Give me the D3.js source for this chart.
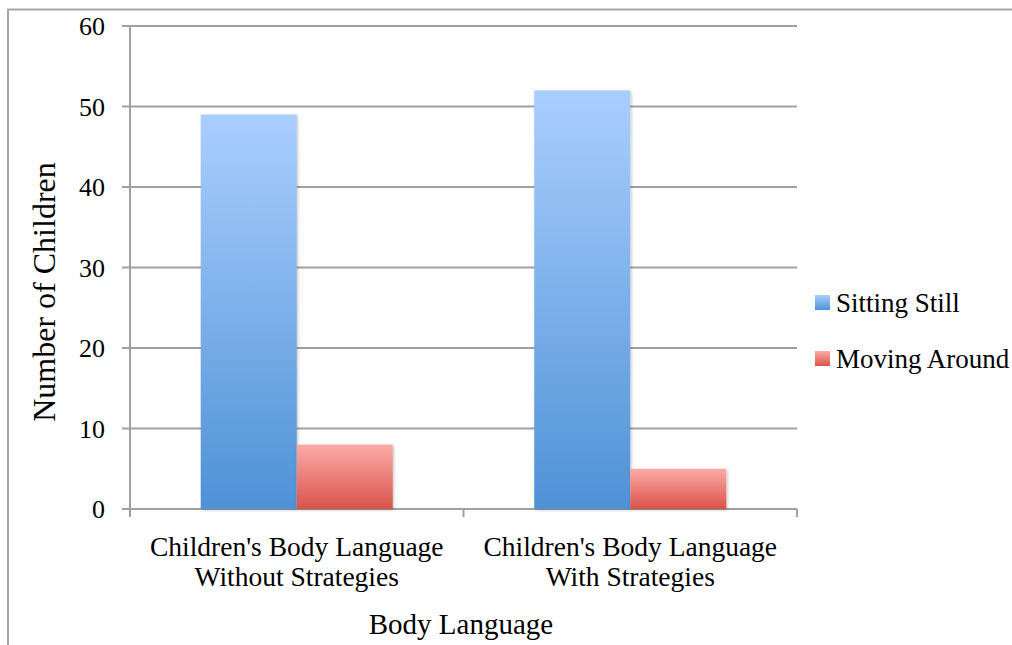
<!DOCTYPE html>
<html>
<head>
<meta charset="utf-8">
<script src="https://cdn.jsdelivr.net/npm/d3@7"></script>
<style>
  body { margin: 0; background: #fff; }
  svg { display: block; font-family: "Liberation Serif", "DejaVu Serif", serif; }
</style>
</head>
<body>
<svg id="chart" width="1012" height="645"></svg>
<script>
// chart data
var categories = ["Children's Body Language|Without Strategies", "Children's Body Language|With Strategies"];
var seriesNames = ["Sitting Still", "Moving Around"];
var sittingStill = [49, 52];
var movingAround = [8, 5];
var yTicks = [0, 10, 20, 30, 40, 50, 60];

var svg = d3.select('#chart');
var plotL = 130, plotR = 797, plotT = 26, plotB = 509;

var defs = svg.append('defs');
var grads = [["gBlue", "#aacefe", "#4e92d6"], ["gRed", "#fcaba7", "#d9534a"]];
grads.forEach(function(g){
  var lg = defs.append('linearGradient').attr('id', g[0]).attr('x1', 0).attr('y1', 0).attr('x2', 0).attr('y2', 1);
  lg.append('stop').attr('offset', '0%').attr('stop-color', g[1]);
  lg.append('stop').attr('offset', '100%').attr('stop-color', g[2]);
});
var f = defs.append('filter').attr('id', 'shadow').attr('x', '-10%').attr('y', '-10%').attr('width', '130%').attr('height', '130%');
f.append('feDropShadow').attr('dx', 1).attr('dy', 1).attr('stdDeviation', 1.5).attr('flood-color', '#000').attr('flood-opacity', 0.25);

// outer border
svg.append('rect').attr('x', 8).attr('y', 9.5).attr('width', 1020).attr('height', 650)
  .attr('fill', 'none').attr('stroke', '#a6a6a6').attr('stroke-width', 2);

var y = d3.scaleLinear().domain([0, 60]).range([plotB, plotT]);
var x0 = d3.scaleBand().domain(d3.range(categories.length)).range([plotL, plotR]).padding(0);
var x1 = d3.scaleBand().domain(d3.range(seriesNames.length)).range([0, x0.bandwidth()]).paddingInner(0).paddingOuter(0.737);

// gridlines
svg.append('g').selectAll('line').data(yTicks).enter().append('line')
  .attr('x1', plotL - 8).attr('x2', plotR)
  .attr('y1', function(d){ return y(d); }).attr('y2', function(d){ return y(d); })
  .attr('stroke', '#a0a0a0').attr('stroke-width', 2);

// y tick labels
svg.append('g').selectAll('text').data(yTicks).enter().append('text')
  .attr('x', 105).attr('y', function(d){ return y(d) + 9; })
  .attr('text-anchor', 'end').attr('font-size', 26).attr('fill', '#000')
  .text(function(d){ return d; });

// y axis line
svg.append('line').attr('x1', plotL).attr('x2', plotL).attr('y1', plotT).attr('y2', plotB + 8)
  .attr('stroke', '#a0a0a0').attr('stroke-width', 2);
// x category ticks
svg.append('g').selectAll('line').data(d3.range(categories.length + 1)).enter().append('line')
  .attr('x1', function(d){ return plotL + d * x0.step(); }).attr('x2', function(d){ return plotL + d * x0.step(); })
  .attr('y1', plotB).attr('y2', plotB + 8)
  .attr('stroke', '#a0a0a0').attr('stroke-width', 2);

// bars
var rows = categories.map(function(c, i){ return [sittingStill[i], movingAround[i]]; });
var fills = ['url(#gBlue)', 'url(#gRed)'];
var grp = svg.append('g').selectAll('g').data(rows).enter().append('g')
  .attr('transform', function(d, i){ return 'translate(' + x0(i) + ',0)'; });
grp.selectAll('rect').data(function(d){ return d; }).enter().append('rect')
  .attr('x', function(d, j){ return x1(j); })
  .attr('y', function(d){ return y(d); })
  .attr('width', x1.bandwidth())
  .attr('height', function(d){ return y(0) - y(d); })
  .attr('fill', function(d, j){ return fills[j]; })
  .attr('filter', 'url(#shadow)');

// category labels
svg.append('g').selectAll('text').data(categories).enter().append('text')
  .attr('text-anchor', 'middle').attr('font-size', 27.5).attr('fill', '#000')
  .attr('x', function(d, i){ return x0(i) + x0.bandwidth() / 2; })
  .attr('y', 556)
  .each(function(d){
    var t = d3.select(this);
    d.split('|').forEach(function(s, k){
      t.append('tspan').attr('x', t.attr('x')).attr('dy', k ? 30 : 0).text(s);
    });
  });

// axis titles
svg.append('text').attr('x', 461).attr('y', 634).attr('text-anchor', 'middle')
  .attr('font-size', 29).attr('fill', '#000').text('Body Language');
svg.append('text').attr('transform', 'translate(55,292) rotate(-90)').attr('text-anchor', 'middle')
  .attr('font-size', 32).attr('fill', '#000').text('Number of Children');

// legend
var leg = svg.append('g').selectAll('g').data(seriesNames).enter().append('g')
  .attr('transform', function(d, i){ return 'translate(815,' + (295 + i * 56) + ')'; });
leg.append('rect').attr('width', 15).attr('height', 15).attr('fill', function(d, i){ return fills[i]; });
leg.append('text').attr('x', 21).attr('y', 17).attr('font-size', 27).attr('fill', '#000')
  .text(function(d){ return d; });
</script>
</body>
</html>
